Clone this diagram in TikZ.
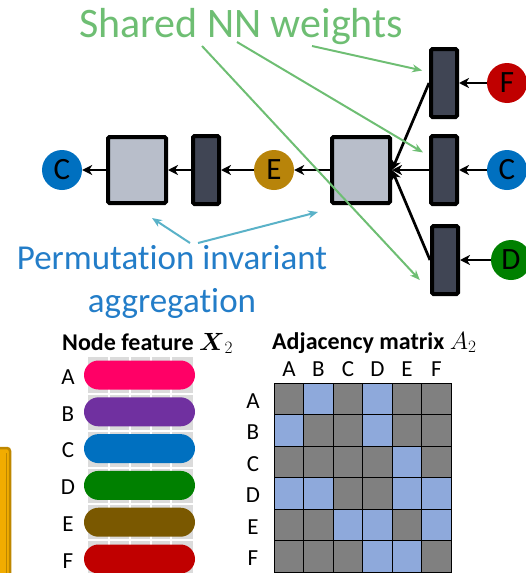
\documentclass[tikz,border=0pt]{standalone}
\usepackage{amsmath}
\usepackage{fontspec}
\setmainfont{Carlito}[Ligatures=NoCommon,Contextuals=NoAlternate]
\usetikzlibrary{arrows.meta,positioning}
\definecolor{cagg}{RGB}{184,190,202}
\definecolor{cnn}{RGB}{64,69,84}
\definecolor{cshare}{RGB}{110,190,115}
\definecolor{cperm}{RGB}{90,178,200}
\definecolor{cpermtxt}{RGB}{35,125,200}
\definecolor{cA}{RGB}{255,0,102}
\definecolor{cB}{RGB}{112,48,160}
\definecolor{cC}{RGB}{0,112,192}
\definecolor{cD}{RGB}{0,128,0}
\definecolor{cE}{RGB}{122,88,0}
\definecolor{cF}{RGB}{192,0,0}
\definecolor{cEnode}{RGB}{184,132,10}
\definecolor{cadj}{RGB}{142,169,219}
\definecolor{cyel}{RGB}{242,172,0}
\definecolor{cyeld}{RGB}{190,135,0}
\tikzset{
  agg/.style={rectangle,draw=black,line width=4pt,fill=cagg,rounded corners=1.5pt,
    minimum width=58pt,minimum height=66pt,inner sep=0pt},
  nn/.style={rectangle,draw=black,line width=4pt,fill=cnn,rounded corners=1.5pt,
    minimum width=26pt,minimum height=68pt,inner sep=0pt},
  nd/.style={circle,minimum size=40pt,inner sep=0pt,text=black,
    font=\fontsize{31}{31}\selectfont},
  arr/.style={-{Stealth[length=10pt,width=10pt,inset=3pt]},line width=2.7pt},
  % thin pointers from the two captions
  share/.style={-{Stealth[length=10pt,width=8pt]},line width=2pt,draw=cshare},
  perm/.style={-{Stealth[length=10pt,width=8pt]},line width=2pt,draw=cperm},
  lbl/.style={font=\fontsize{23}{26}\selectfont,inner sep=0pt},
  ttl/.style={font=\fontsize{24}{28}\selectfont\bfseries,inner sep=0pt,anchor=base west}
}

\begin{document}
\begin{tikzpicture}[x=1pt,y=-1pt]
  \clip (0,0) rectangle (526,573);
  % message passing for node C
  \node[nd,fill=cC] (cL) at (62,170) {C};
  \node[agg] (sqL) at (137,170) {};
  \node[nn] (rL) at (206,170) {};
  \node[nd,fill=cEnode] (E) at (274,170) {E};
  \node[agg] (sqM) at (361,170) {};
  \node[nn] (rF) at (444,83) {};
  \node[nn] (rC) at (444,170) {};
  \node[nn] (rD) at (445,260) {};
  \node[nd,fill=cF] (F) at (507,83) {F};
  \node[nd,fill=cC] (C) at (507,170) {C};
  \node[nd,fill=cD] (D) at (511,260) {D};
  \draw[arr] (sqL) -- (cL);
  \draw[arr] (rL) -- (sqL);
  \draw[arr] (E) -- (rL);
  \draw[arr] (sqM) -- (E);
  \draw[arr] (rF.west) -- (sqM.east);
  \draw[arr] (rC) -- (sqM);
  \draw[arr] (rD.west) -- (sqM.east);
  \draw[arr] (F) -- (rF);
  \draw[arr] (C) -- (rC);
  \draw[arr] (D) -- (rD);

  \node[font=\fontsize{42}{42}\selectfont,text=cshare,anchor=base] (shared) at (241,37) {Shared NN weights};
  \coordinate (w1) at (312,46);
  \coordinate (w2) at (237,42);
  \coordinate (w3) at (202,46);
  \draw[share,shorten >=7pt] (w1) -- ([yshift=11pt]rF.west);
  \draw[share,shorten >=7pt] (w2) -- ([yshift=14pt]rC.west);
  \draw[share,shorten >=15pt] (w3) -- ([yshift=-31pt]rD.west);

  \node[font=\fontsize{35}{35}\selectfont,text=cpermtxt,anchor=base] (perm) at (172,269) {Permutation invariant};
  \node[font=\fontsize{35}{35}\selectfont,text=cpermtxt,anchor=base] (aggr) at (172,312) {aggregation};
  \coordinate (p1) at (190,243);
  \coordinate (p2) at (198,243);
  \draw[perm] (p1) -- ([xshift=15pt,yshift=-13pt]sqL.south);
  \draw[perm] (p2) -- ([xshift=-12pt,yshift=-7pt]sqM.south west);

  % yellow box cut by the left edge
  \draw[fill=cyel,draw=cyeld,line width=2.5pt,rounded corners=3pt] (-20,448) rectangle (10,600);
  \draw[cyeld,line width=1pt] (6,453) -- (6,600);

  % node features
  \node[ttl] (xttl) at (62,350) {Node feature $\boldsymbol{X}_2$};
  \fill[black!14] (88,357) rectangle (193,580);
  \foreach \x in {109,130,151,171}
    \draw[white,line width=1.2pt] (\x,357) -- (\x,580);
  \foreach \y in {394,431,468,504,540}
    \draw[white,line width=1.2pt] (88,\y) -- (193,\y);
  \foreach \n [count=\i from 0] in {A,B,C,D,E,F} {
    \fill[c\n,rounded corners=14.5pt] (84,{375+36.8*\i-14.5}) rectangle (195,{375+36.8*\i+14.5});
    \node[lbl] (fl\n) at (68,{377+36.8*\i}) {\n};
  }

  % adjacency matrix
  \node[ttl] (attl) at (272,349) {Adjacency matrix $A_2$};
  \foreach \row [count=\r from 0] in {{0,1,0,1,0,0},{1,0,0,1,0,0},{0,0,0,0,1,0},
      {1,1,0,0,1,1},{0,0,1,1,0,1},{0,0,0,1,1,0}} {
    \foreach \v [count=\c from 0] in \row {
      \ifnum\v=1 \def\cc{cadj}\else\def\cc{black!50}\fi
      \fill[\cc] ({274+29.5*\c},{383+31.5*\r}) rectangle ++(29.5,31.5);
    }
  }
  \foreach \i in {0,...,6} {
    \draw[line width=1pt] ({274+29.5*\i},383) -- ({274+29.5*\i},578);
    \draw[line width=1pt] (274,{383+31.5*\i}) -- (451,{383+31.5*\i});
  }
  \foreach \n [count=\i from 0] in {A,B,C,D,E,F} {
    \node[lbl] (mc\n) at ({289+29.5*\i},369) {\n};
    \node[lbl] (mr\n) at (253,{401+31.5*\i}) {\n};
  }
\end{tikzpicture}
\end{document}
